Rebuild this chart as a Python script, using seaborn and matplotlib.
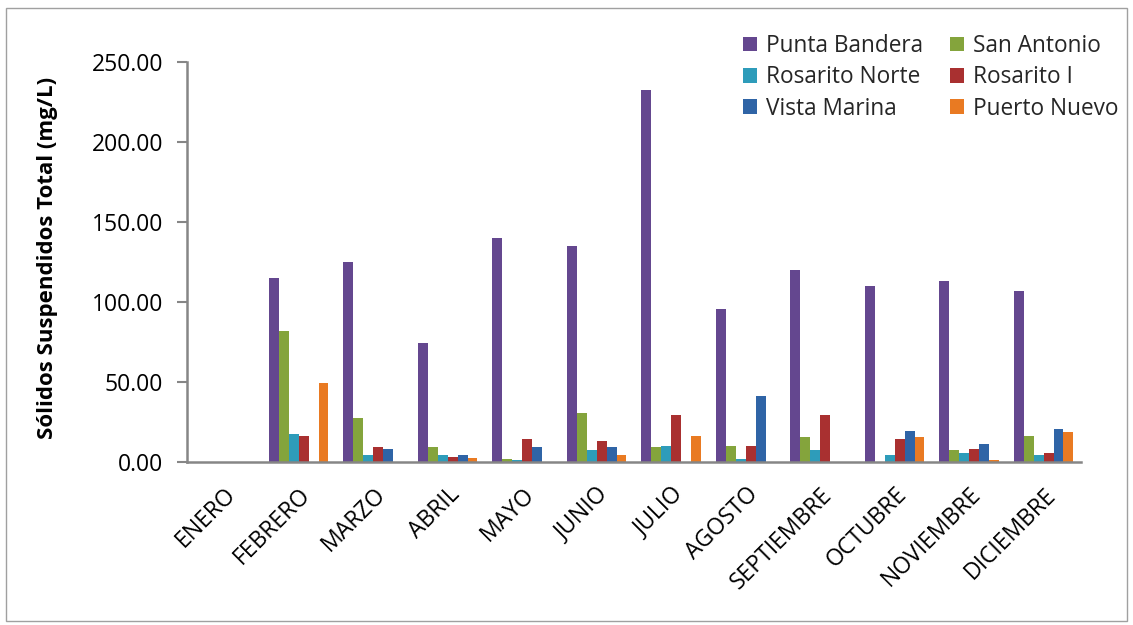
import pandas as pd
import numpy as np
import matplotlib
matplotlib.use('Agg')
import matplotlib.pyplot as plt
import seaborn as sns
from matplotlib.patches import Rectangle

# Monthly values (mg/L)
meses = ['ENERO', 'FEBRERO', 'MARZO', 'ABRIL', 'MAYO', 'JUNIO', 'JULIO',
         'AGOSTO', 'SEPTIEMBRE', 'OCTUBRE', 'NOVIEMBRE', 'DICIEMBRE']
estaciones = ['Punta Bandera', 'San Antonio', 'Rosarito Norte',
              'Rosarito I', 'Vista Marina', 'Puerto Nuevo']

punta_bandera = [0, 115, 125, 74.5, 140, 135, 232.5, 95.5, 120, 110, 113, 107]
san_antonio = [0, 82, 27.5, 9.5, 2, 30.5, 9.5, 10, 15.5, 0, 7.5, 16.5]
rosarito_norte = [0, 17.5, 4.5, 4.5, 1, 7.5, 10, 2, 7.5, 4.5, 5.5, 4.5]
rosarito_i = [0, 16.5, 9.5, 3, 14.5, 13, 29.5, 10, 29.5, 14.5, 8, 5.5]
vista_marina = [0, 0, 8, 4.5, 9.5, 9.5, 0, 41, 0, 19.5, 11.5, 20.5]
puerto_nuevo = [0, 49.5, 0, 2.5, 0, 4.5, 16.5, 0, 0, 15.5, 1, 18.5]

colores = ['#64478F', '#84A43C', '#2E9CBA', '#A93030', '#2F64A6', '#E97A22']

series = [punta_bandera, san_antonio, rosarito_norte, rosarito_i, vista_marina, puerto_nuevo]
rows = []
for est, vals in zip(estaciones, series):
    for mes, v in zip(meses, vals):
        rows.append({'Mes': mes, 'Estacion': est, 'Valor': v})
df = pd.DataFrame(rows)

sns.set_style('white')
plt.rcParams['font.family'] = ['Open Sans', 'DejaVu Sans']

fig = plt.figure(figsize=(11.33, 6.25), dpi=100)
ax = fig.add_axes([0.165, 0.2608, 0.789, 0.64])

sns.barplot(data=df, x='Mes', y='Valor', hue='Estacion', order=meses,
            hue_order=estaciones, palette=colores, width=0.8,
            saturation=1, ax=ax, errorbar=None, linewidth=0)

ax.set_ylim(0, 250)
ax.set_xlim(-0.5, 11.5)
ax.set_yticks(np.arange(0, 251, 50))
ax.set_yticklabels([f'{v:.2f}' for v in np.arange(0, 251, 50)], fontsize=16.5, color='black')
ax.set_xticks(range(len(meses)))
ax.set_xticklabels(meses, rotation=45, ha='right', rotation_mode='anchor',
                   fontsize=16.5, color='black')
ax.set_xticks(np.arange(-0.5, 12, 1), minor=True)
ax.tick_params(axis='x', which='major', length=0, pad=15)
ax.tick_params(axis='x', which='minor', length=6, width=1.5, direction='in', color='#868686')
ax.tick_params(axis='y', length=7, width=1.5, color='#868686', left=True, pad=10)
ax.set_xlabel('')
ax.set_ylabel('Sólidos Suspendidos Total (mg/L)', fontsize=16, fontweight='bold', color='black')
ax.yaxis.set_label_coords(-0.144, 0.51)

for side in ['top', 'right']:
    ax.spines[side].set_visible(False)
for side in ['left', 'bottom']:
    ax.spines[side].set_color('#868686')
    ax.spines[side].set_linewidth(1.8)

# row-wise legend order as in the reference
handles, labels = ax.get_legend_handles_labels()
orden = [0, 2, 4, 1, 3, 5]
ax.legend([handles[i] for i in orden], [labels[i] for i in orden], ncol=2,
          loc='upper right', bbox_to_anchor=(0.995, 0.96), bbox_transform=fig.transFigure,
          frameon=False, fontsize=16.3, handlelength=0.6, handleheight=0.6,
          handletextpad=0.4, columnspacing=1.2, labelspacing=0.32, borderaxespad=0)

fig.patches.append(Rectangle((0.005, 0.006), 0.99, 0.982, transform=fig.transFigure,
                             fill=False, edgecolor='#A0A0A0', linewidth=1))

fig.savefig('out.png', dpi=100)
